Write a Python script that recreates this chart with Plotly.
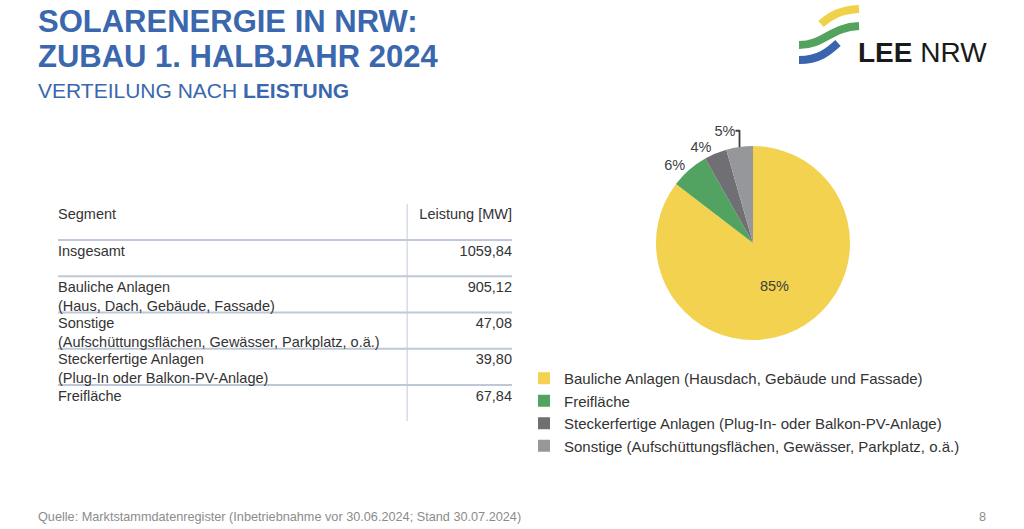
import plotly.graph_objects as go

# ---------------- data ----------------
table_header = ["Segment", "Leistung [MW]"]
table_segments = [
    "Insgesamt",
    "Bauliche Anlagen<br>(Haus, Dach, Gebäude, Fassade)",
    "Sonstige<br>(Aufschüttungsflächen, Gewässer, Parkplatz, o.ä.)",
    "Steckerfertige Anlagen<br>(Plug-In oder Balkon-PV-Anlage)",
    "Freifläche",
]
table_values = ["1059,84", "905,12", "47,08", "39,80", "67,84"]

pie_labels = [
    "Bauliche Anlagen (Hausdach, Gebäude und Fassade)",
    "Freifläche",
    "Steckerfertige Anlagen (Plug-In- oder Balkon-PV-Anlage)",
    "Sonstige (Aufschüttungsflächen, Gewässer, Parkplatz, o.ä.)",
]
pie_values = [905.12, 67.84, 39.80, 47.08]
pie_text = ["85%", "6%", "4%", "5%"]
pie_colors = ["#f2d24f", "#52a261", "#707074", "#96979b"]

# ---------------- helpers ----------------
W, H = 1024, 529
def px(x):
    return x / W
def py(y):
    return 1 - y / H

FONT = "Liberation Sans, Arial, sans-serif"
TXT = "#333333"
BLUE = "#3a67ad"

fig = go.Figure()

# ---------------- pie ----------------
cx, cy, r = 753, 243, 97
fig.add_trace(go.Pie(
    labels=pie_labels,
    values=pie_values,
    text=pie_text,
    textinfo="text",
    textposition=["inside", "outside", "outside", "outside"],
    sort=False,
    direction="clockwise",
    rotation=0,
    marker=dict(colors=pie_colors, line=dict(width=0)),
    insidetextfont=dict(family=FONT, size=14.5, color="#404040"),
    outsidetextfont=dict(family=FONT, size=14.5, color="#404040"),
    domain=dict(x=[px(cx - r), px(cx + r)], y=[py(cy + r), py(cy - r)]),
    hoverinfo="label+value",
    showlegend=True,
))

# ---------------- table (drawn on a hidden cartesian axis) ----------------
n_rows = len(table_segments) + 1
row_idx = list(range(n_rows))
left_text = [table_header[0]] + table_segments
right_text = [table_header[1]] + table_values
text_y = [i + 0.13 for i in row_idx]

fig.add_trace(go.Scatter(
    x=[0] * n_rows, y=text_y, text=left_text, mode="text",
    textposition="bottom right",
    textfont=dict(family=FONT, size=14.5, color=TXT),
    hoverinfo="skip", showlegend=False, xaxis="x", yaxis="y",
))
fig.add_trace(go.Scatter(
    x=[1] * n_rows, y=text_y, text=right_text, mode="text",
    textposition="bottom left",
    textfont=dict(family=FONT, size=14.5, color=TXT),
    hoverinfo="skip", showlegend=False, xaxis="x", yaxis="y",
))

shapes = []
for k in range(1, n_rows):
    shapes.append(dict(type="line", xref="x", yref="y", x0=0, x1=1, y0=k, y1=k,
                       line=dict(color="#bfc8d8", width=2), layer="below"))
col_sep = 0.769
shapes.append(dict(type="line", xref="x", yref="y", x0=col_sep, x1=col_sep, y0=0, y1=n_rows,
                   line=dict(color="#c3cadb", width=1), layer="below"))

# ---------------- logo stripes ----------------
def path(pts):
    (x0, y0), (x1, y1), (x2, y2), (x3, y3) = pts
    return (f"M {px(x0)} {py(y0)} C {px(x1)} {py(y1)}, {px(x2)} {py(y2)}, {px(x3)} {py(y3)}")

stripes = [
    ([(821, 24), (831, 15), (841, 10), (859, 9)], "#f0d24a"),
    ([(799, 45), (824, 45), (831, 27), (859, 26)], "#52a35e"),
    ([(799, 60), (819, 60), (828, 52), (838, 43)], "#3a64ad"),
]
for pts, col in stripes:
    shapes.append(dict(type="path", xref="paper", yref="paper", path=path(pts),
                       line=dict(color=col, width=8)))

# ---------------- annotations ----------------
ann = []
ann.append(dict(text="<b>SOLARENERGIE IN NRW:</b>", x=px(36), y=py(21.5), xanchor="left", yanchor="middle",
                font=dict(family=FONT, size=31, color=BLUE)))
ann.append(dict(text="<b>ZUBAU 1. HALBJAHR 2024</b>", x=px(36), y=py(56.5), xanchor="left", yanchor="middle",
                font=dict(family=FONT, size=31, color=BLUE)))
ann.append(dict(text="VERTEILUNG NACH <b>LEISTUNG</b>", x=px(36), y=py(91), xanchor="left", yanchor="middle",
                font=dict(family=FONT, size=21, color=BLUE)))
ann.append(dict(text="<b>LEE</b> NRW", x=px(856), y=py(52), xanchor="left", yanchor="middle",
                font=dict(family=FONT, size=28, color="#1a1a1a")))
ann.append(dict(text="Quelle: Marktstammdatenregister (Inbetriebnahme vor 30.06.2024; Stand 30.07.2024)",
                x=px(36), y=py(517), xanchor="left", yanchor="middle",
                font=dict(family="Liberation Sans Narrow, Arial Narrow, Liberation Sans, sans-serif",
                          size=12.7, color="#8c8c8c")))
ann.append(dict(text="8", x=px(988), y=py(517), xanchor="right", yanchor="middle",
                font=dict(family="Liberation Sans Narrow, Arial Narrow, Liberation Sans, sans-serif",
                          size=12.7, color="#8c8c8c")))
for a in ann:
    a.update(xref="paper", yref="paper", showarrow=False)

fig.update_layout(
    width=W, height=H,
    margin=dict(l=0, r=0, t=0, b=0),
    paper_bgcolor="white", plot_bgcolor="white",
    font=dict(family=FONT, color=TXT),
    xaxis=dict(domain=[px(58), px(512)], range=[0, 1], visible=False, fixedrange=True),
    yaxis=dict(domain=[py(203.75 + 36.25 * n_rows), py(203.75)], range=[n_rows, 0],
               visible=False, fixedrange=True),
    shapes=shapes,
    annotations=ann,
    legend=dict(x=px(524), y=py(362), xanchor="left", yanchor="top",
                font=dict(family=FONT, size=15, color=TXT),
                bgcolor="rgba(0,0,0,0)", borderwidth=0, tracegroupgap=0),
    showlegend=True,
)

fig.write_html("out.html", config={"displayModeBar": False},
               post_script="document.body.style.margin='0';document.body.style.overflow='hidden';")
